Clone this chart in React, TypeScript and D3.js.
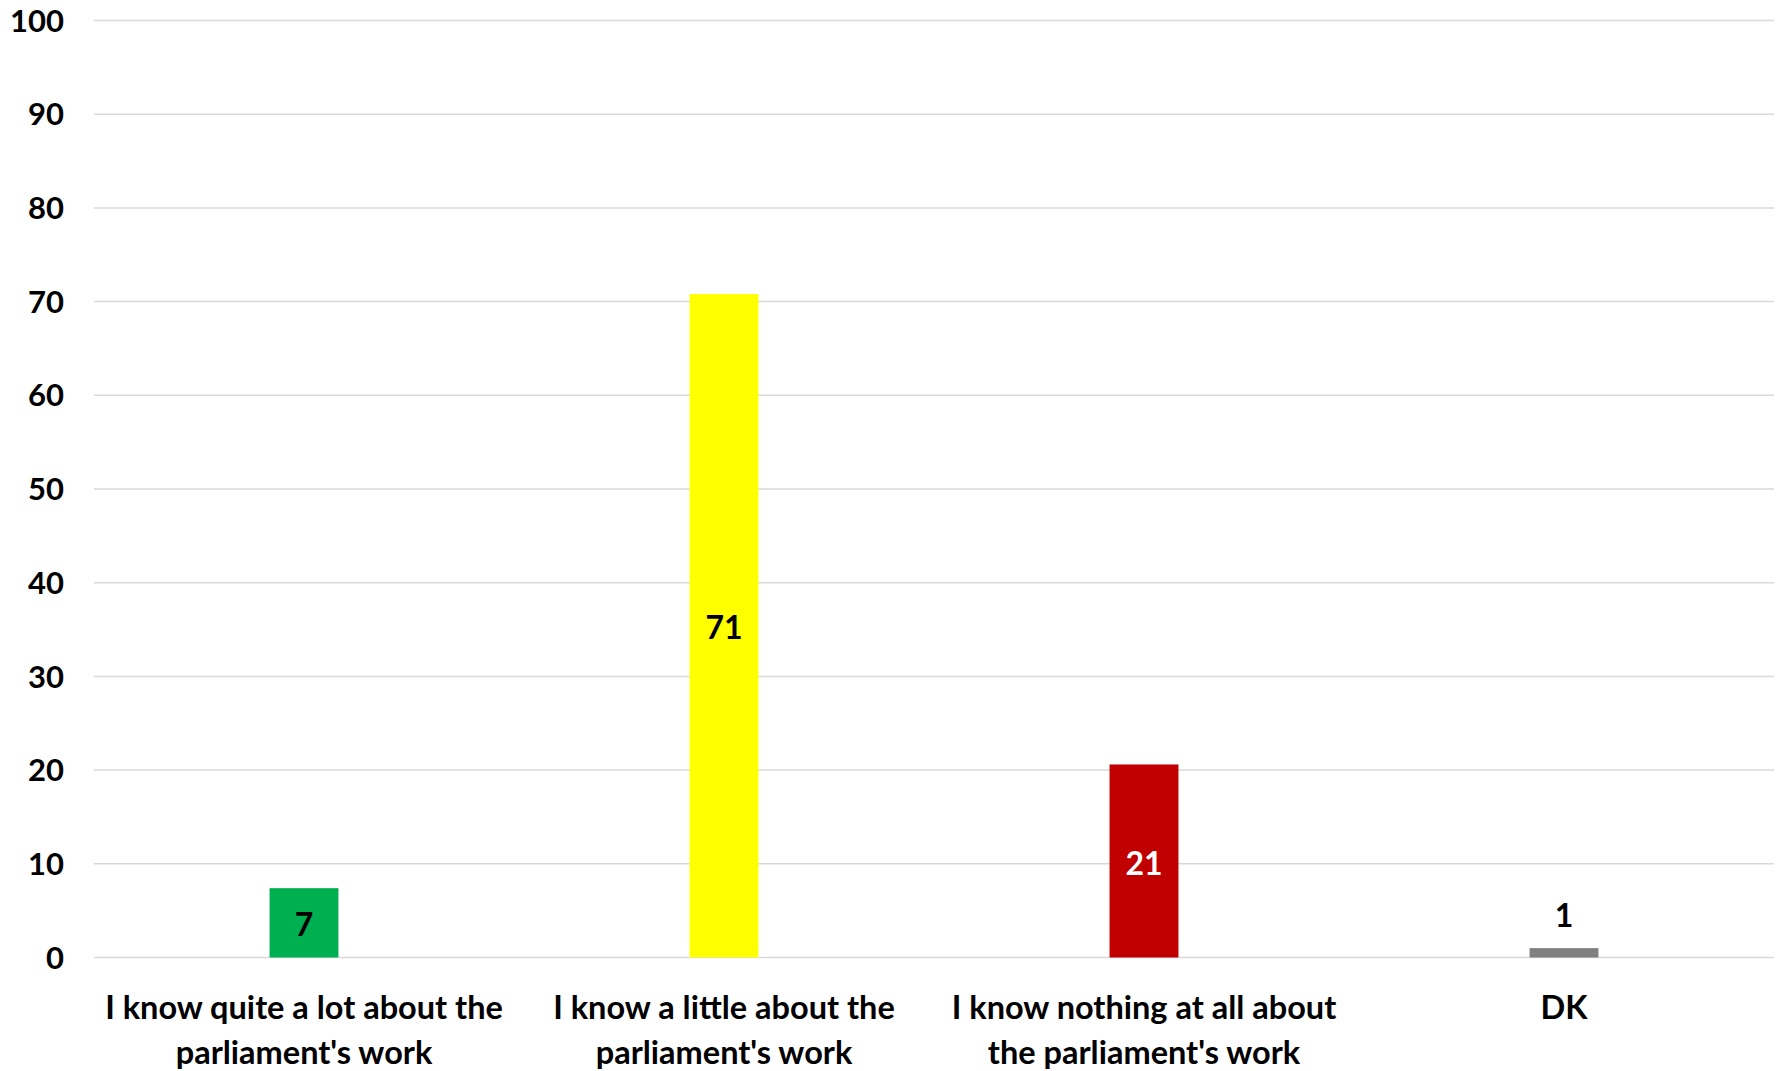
import React from "react";
import * as d3 from "d3";

const categories: string[][] = [
  ["I know quite a lot about the", "parliament's work"],
  ["I know a little about the", "parliament's work"],
  ["I know nothing at all about", "the parliament's work"],
  ["DK"],
];
const values: number[] = [7.4, 70.8, 20.6, 1.0];
const barColors: string[] = ["#00b050", "#ffff00", "#c00000", "#808080"];
const labelColors: string[] = ["#000000", "#000000", "#ffffff", "#000000"];
const yTicks: number[] = [0, 10, 20, 30, 40, 50, 60, 70, 80, 90, 100];

const W = 1781;
const H = 1071;
const margin = { left: 94, right: 7, top: 20.5, bottom: 113.5 };
const FONT = "Lato, 'Open Sans', sans-serif";

export default function App() {
  const innerW = W - margin.left - margin.right;
  const innerH = H - margin.top - margin.bottom;
  const keys = categories.map((_, i) => String(i));
  const x = d3.scaleBand<string>().domain(keys).range([margin.left, margin.left + innerW]).paddingInner(0.836).paddingOuter(0.418);
  const y = d3.scaleLinear().domain([0, 100]).range([margin.top + innerH, margin.top]);
  const fmt = d3.format(".0f");

  return (
    <svg width={W} height={H} style={{ position: "absolute", left: 0, top: 0, display: "block", background: "#fff" }}>
      {yTicks.map((t) => (
        <g key={t}>
          <line x1={margin.left} x2={W - margin.right} y1={y(t)} y2={y(t)} stroke="#d9d9d9" strokeWidth={1.5} />
          <text x={64} y={y(t)} dy="0.36em" textAnchor="end" fontFamily={FONT} fontWeight={700} fontSize={31} fill="#000">
            {t}
          </text>
        </g>
      ))}
      {values.map((v, i) => {
        const bx = x(String(i))!;
        const bw = x.bandwidth();
        const top = y(v);
        const base = y(0);
        const cx = bx + bw / 2;
        const inside = base - top > 40;
        return (
          <g key={i}>
            <rect x={bx} y={top} width={bw} height={base - top} fill={barColors[i]} />
            <text
              x={cx}
              y={inside ? (top + base) / 2 + 2 : top - 33}
              dy="0.36em"
              textAnchor="middle"
              fontFamily={FONT}
              fontWeight={700}
              fontSize={32}
              fill={labelColors[i]}
            >
              {fmt(v)}
            </text>
          </g>
        );
      })}
      {categories.map((lines, i) => {
        const cx = x(String(i))! + x.bandwidth() / 2;
        return (
          <text key={i} textAnchor="middle" fontFamily={FONT} fontWeight={700} fontSize={32.5} fill="#000">
            {lines.map((l, j) => (
              <tspan key={j} x={cx} y={1019 + j * 45}>
                {l}
              </tspan>
            ))}
          </text>
        );
      })}
    </svg>
  );
}
